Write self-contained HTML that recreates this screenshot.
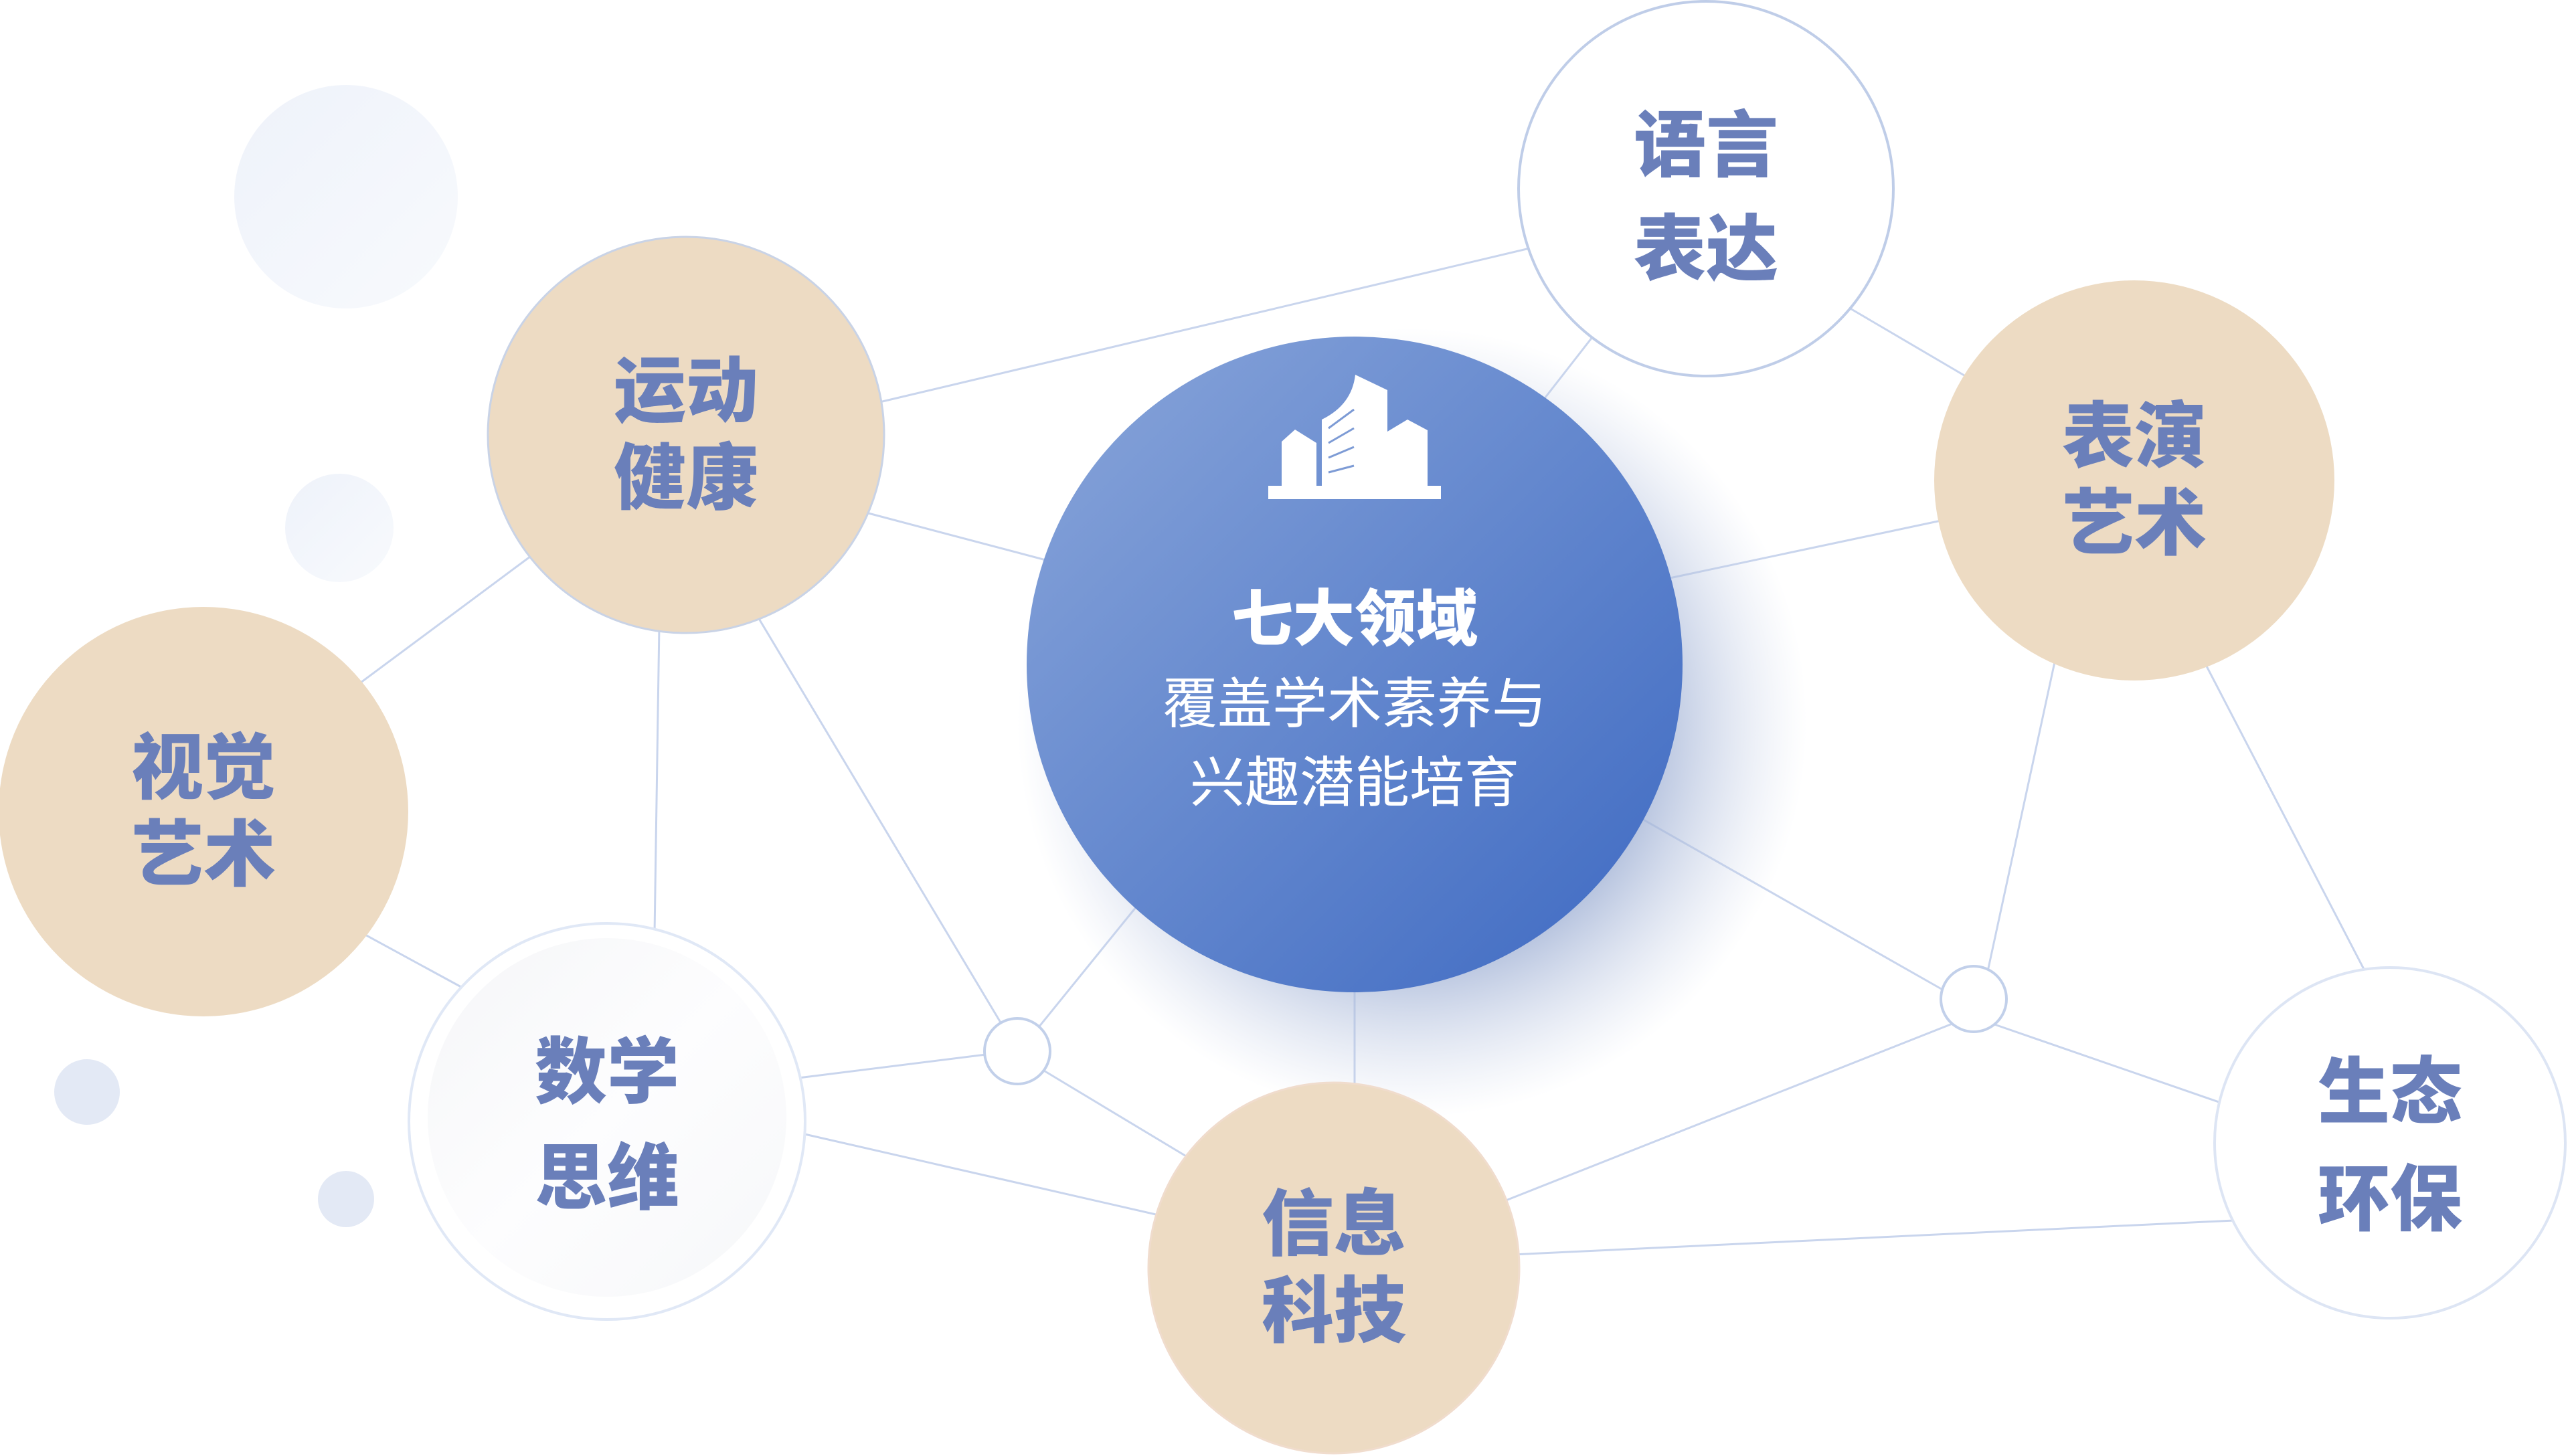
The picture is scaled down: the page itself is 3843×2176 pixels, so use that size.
<!DOCTYPE html>
<html><head><meta charset="utf-8"><style>
html,body{margin:0;padding:0;background:#fff}
svg{display:block}
.t{font-family:"Liberation Sans","Noto Sans CJK SC",sans-serif;font-weight:900;fill:#6a7fba;font-size:108px;text-anchor:middle}
.w{font-family:"Liberation Sans","Noto Sans CJK SC",sans-serif;fill:#fff;text-anchor:middle}
</style></head><body>
<svg width="3843" height="2176" viewBox="0 0 3843 2176" xmlns="http://www.w3.org/2000/svg">
<defs>
<linearGradient id="cg" x1="0" y1="0" x2="1" y2="1">
<stop offset="0" stop-color="#8aa6da"/><stop offset="1" stop-color="#3d69c2"/>
</linearGradient>
<linearGradient id="dg" x1="0" y1="0" x2="1" y2="1">
<stop offset="0" stop-color="#eef2fa"/><stop offset="1" stop-color="#f8fafd"/>
</linearGradient>
<linearGradient id="mg" x1="0" y1="0" x2="1" y2="1">
<stop offset="0" stop-color="#f5f6f8"/><stop offset="0.5" stop-color="#fdfdfe"/><stop offset="1" stop-color="#f6f7f9"/>
</linearGradient>
<radialGradient id="sh" cx="0.5" cy="0.5" r="0.5">
<stop offset="0.6" stop-color="#9fb0d4" stop-opacity="0.8"/><stop offset="1" stop-color="#c8d2e8" stop-opacity="0"/>
</radialGradient>
</defs>
<circle cx="517" cy="294" r="167" fill="url(#dg)"/>
<circle cx="507" cy="789" r="81" fill="url(#dg)"/>
<circle cx="130" cy="1632" r="49" fill="#e3e9f5"/>
<circle cx="517" cy="1792" r="42" fill="#e3e9f5"/>
<g stroke="#c9d5ed" stroke-width="3" fill="none">
<line x1="1310" y1="602" x2="2290" y2="370"/>
<line x1="1290" y1="765" x2="1570" y2="839"/>
<line x1="792" y1="832" x2="531" y2="1026"/>
<line x1="985" y1="935" x2="978" y2="1395"/>
<line x1="1130" y1="918" x2="1498" y2="1533"/>
<line x1="2383" y1="499" x2="2305" y2="599"/>
<line x1="2756" y1="456" x2="2940" y2="564"/>
<line x1="2905" y1="777" x2="2490" y2="865"/>
<line x1="3071" y1="985" x2="2969" y2="1456"/>
<line x1="3292" y1="986" x2="3537" y2="1458"/>
<line x1="2452" y1="1223" x2="2913" y2="1485"/>
<line x1="2024" y1="1475" x2="2024" y2="1630"/>
<line x1="1702" y1="1350" x2="1548" y2="1540"/>
<line x1="542" y1="1395" x2="700" y2="1481"/>
<line x1="1193" y1="1611" x2="1481" y2="1575"/>
<line x1="1198" y1="1694" x2="1740" y2="1818"/>
<line x1="1558" y1="1599" x2="1784" y2="1735"/>
<line x1="2240" y1="1798" x2="2922" y2="1528"/>
<line x1="2980" y1="1531" x2="3324" y2="1650"/>
<line x1="2260" y1="1875" x2="3338" y2="1824"/>
</g>
<circle cx="1520" cy="1571" r="49" fill="#fff" stroke="#c2d0ea" stroke-width="4"/>
<circle cx="2949" cy="1493" r="49" fill="#fff" stroke="#c2d0ea" stroke-width="4"/>
<circle cx="2110" cy="1080" r="590" fill="url(#sh)"/>
<circle cx="2024" cy="993" r="490" fill="url(#cg)"/>
<g fill="#fff">
<rect x="1895" y="726" width="258" height="20"/>
<path d="M1915 726 V660 L1935 642 V726 Z"/>
<path d="M1935 642 L1967 662 V726 H1935 Z"/>
<path d="M1975 726 V627 Q2020 605 2025 560 L2073 583 V726 Z"/>
<path d="M2073 645 L2103 627 L2133 643 V726 H2073 Z"/>
</g>
<g stroke="#7d9bd5" stroke-width="3">
<line x1="1985" y1="640" x2="2023" y2="612"/><line x1="1985" y1="662" x2="2023" y2="640"/>
<line x1="1985" y1="684" x2="2023" y2="668"/><line x1="1985" y1="706" x2="2023" y2="696"/>
</g>
<text class="w" x="2024" y="957" font-size="92" font-weight="900">七大领域</text>
<text class="w" x="2024" y="1080" font-size="82">覆盖学术素养与</text>
<text class="w" x="2024" y="1198" font-size="82">兴趣潜能培育</text>
<circle cx="2549" cy="282" r="280" fill="#fff" stroke="#bfcde8" stroke-width="4"/>
<text class="t" x="2549" y="255">语言</text><text class="t" x="2549" y="410">表达</text>
<circle cx="1025" cy="650" r="296" fill="#eddbc3" stroke="#c9d3e6" stroke-width="3"/>
<text class="t" x="1025" y="622">运动</text><text class="t" x="1025" y="752">健康</text>
<circle cx="3189" cy="718" r="299" fill="#eddbc3"/>
<text class="t" x="3189" y="690">表演</text><text class="t" x="3189" y="820">艺术</text>
<circle cx="304" cy="1213" r="306" fill="#eddbc3"/>
<text class="t" x="304" y="1185">视觉</text><text class="t" x="304" y="1315">艺术</text>
<circle cx="907" cy="1676" r="296" fill="#fff" stroke="#e0e8f6" stroke-width="4"/>
<circle cx="907" cy="1670" r="268" fill="url(#mg)"/>
<text class="t" x="907" y="1640">数学</text><text class="t" x="907" y="1798">思维</text>
<circle cx="1993" cy="1895" r="277" fill="#eddbc3" stroke="#f0dccd" stroke-width="3"/>
<text class="t" x="1993" y="1867">信息</text><text class="t" x="1993" y="1997">科技</text>
<circle cx="3571" cy="1708" r="262" fill="#fff" stroke="#dde5f4" stroke-width="4"/>
<text class="t" x="3571" y="1670">生态</text><text class="t" x="3571" y="1830">环保</text>
</svg>
</body></html>
